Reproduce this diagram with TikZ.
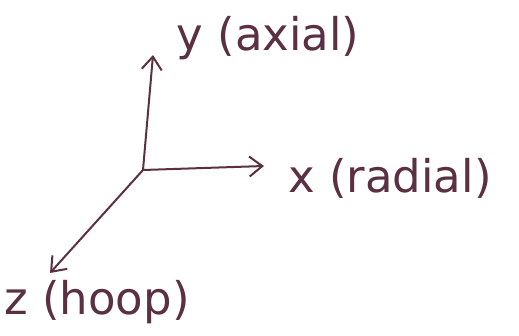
\documentclass[tikz,border=0pt]{standalone}
\usepackage{fontspec}
\setmainfont{DejaVu Sans}
\usetikzlibrary{arrows.meta}
\definecolor{ink}{HTML}{5A3042}
\begin{document}
\begin{tikzpicture}[x=1pt,y=-1pt,
  axis/.style={draw=ink, line width=2pt, -{Straight Barb[length=13pt,width=20pt,line width=2pt]}},
  lbl/.style={text=ink, font=\fontsize{45}{48}\selectfont, inner sep=0pt}]
\useasboundingbox (0,0) rectangle (519,335);
\coordinate (o) at (143,170);
\coordinate (ytip) at (153,55);
\coordinate (xtip) at (264,166);
\coordinate (ztip) at (50,273);
\draw[axis] (o) -- (ytip);
\draw[axis] (o) -- (xtip);
\draw[axis] (o) -- (ztip);
\node[lbl] (ylab) at (268,38) {y (axial)};
\node[lbl] (xlab) at (390,178) {x (radial)};
\node[lbl] (zlab) at (97,302) {z (hoop)};
\end{tikzpicture}
\end{document}
